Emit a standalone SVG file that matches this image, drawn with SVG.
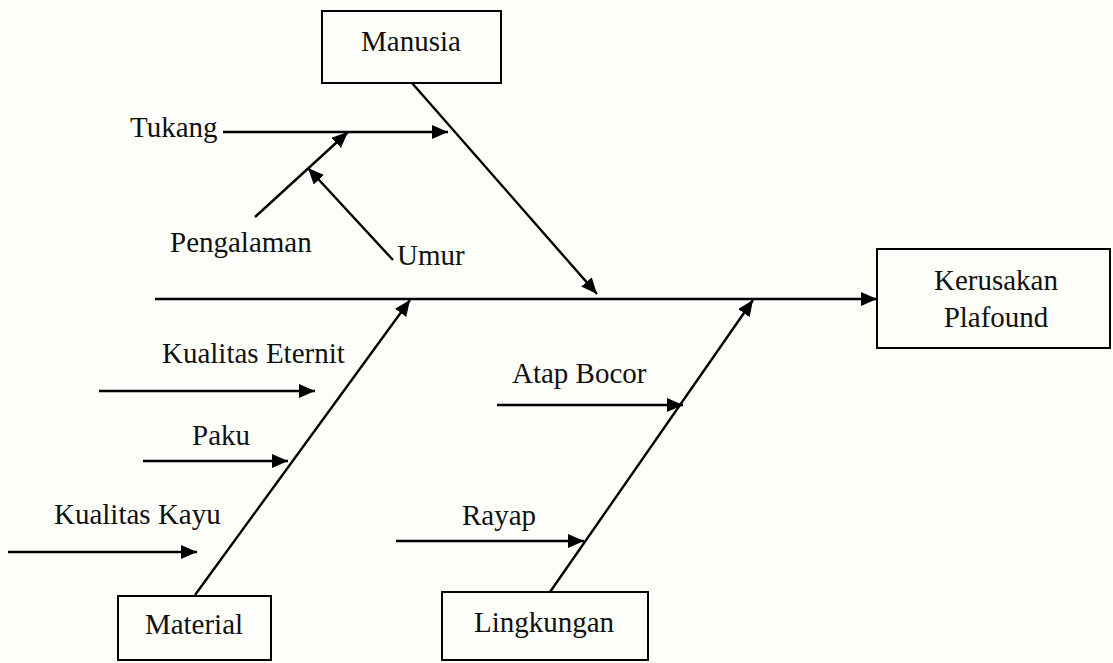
<svg xmlns="http://www.w3.org/2000/svg" width="1113" height="663" viewBox="0 0 1113 663" font-family="'Liberation Serif', 'Times New Roman', serif">
  <defs>
    <marker id="arrow" markerUnits="userSpaceOnUse" markerWidth="18" markerHeight="16" refX="16" refY="7" orient="auto">
      <path d="M0,0 L16,7 L0,14 z" fill="#000"/>
    </marker>
    <style>
      .box { fill: none; stroke: #000; stroke-width: 2; }
      .arr { stroke: #000; stroke-width: 2.4; fill: none; marker-end: url(#arrow); }
      .lbl { font-family: 'Liberation Serif', 'Times New Roman', serif; font-size: 29px; fill: #111; }
      .c { text-anchor: middle; }
    </style>
  </defs>
  <rect width="1113" height="663" fill="#fdfdf9"/>

  <!-- connectors: spine, category bones, cause arrows -->
  <g id="connectors">
    <line class="arr" x1="155" y1="299" x2="877" y2="299"/>
    <line class="arr" x1="412" y1="83" x2="597" y2="294"/>
    <line class="arr" x1="195" y1="595" x2="410" y2="300"/>
    <line class="arr" x1="550" y1="592" x2="753" y2="300"/>

    <line class="arr" x1="223" y1="132" x2="448" y2="132"/>
    <line class="arr" x1="255" y1="217" x2="348" y2="132"/>
    <line class="arr" x1="393" y1="260" x2="308" y2="168"/>

    <line class="arr" x1="99" y1="391" x2="315" y2="391"/>
    <line class="arr" x1="143" y1="461" x2="288" y2="461"/>
    <line class="arr" x1="8" y1="552" x2="197" y2="552"/>

    <line class="arr" x1="497" y1="405" x2="683" y2="405"/>
    <line class="arr" x1="396" y1="541" x2="584" y2="541"/>
  </g>

  <g id="manusia">
    <rect class="box" x="322" y="11" width="179" height="72"/>
    <text class="lbl c" x="411" y="51">Manusia</text>
  </g>

  <g id="kerusakan-plafound">
    <rect class="box" x="877" y="249" width="233" height="99"/>
    <text class="lbl c" x="996" y="290">Kerusakan</text>
    <text class="lbl c" x="996" y="327">Plafound</text>
  </g>

  <g id="material">
    <rect class="box" x="118" y="596" width="153" height="64"/>
    <text class="lbl c" x="194" y="634">Material</text>
  </g>

  <g id="lingkungan">
    <rect class="box" x="442" y="592" width="206" height="68"/>
    <text class="lbl c" x="544" y="632">Lingkungan</text>
  </g>

  <g id="cause-labels">
    <text class="lbl" x="130" y="137">Tukang</text>
    <text class="lbl" x="170" y="252">Pengalaman</text>
    <text class="lbl" x="397" y="265">Umur</text>
    <text class="lbl" x="162" y="363">Kualitas Eternit</text>
    <text class="lbl" x="192" y="445">Paku</text>
    <text class="lbl" x="54" y="524">Kualitas Kayu</text>
    <text class="lbl" x="512" y="383">Atap Bocor</text>
    <text class="lbl" x="462" y="525">Rayap</text>
  </g>
</svg>
